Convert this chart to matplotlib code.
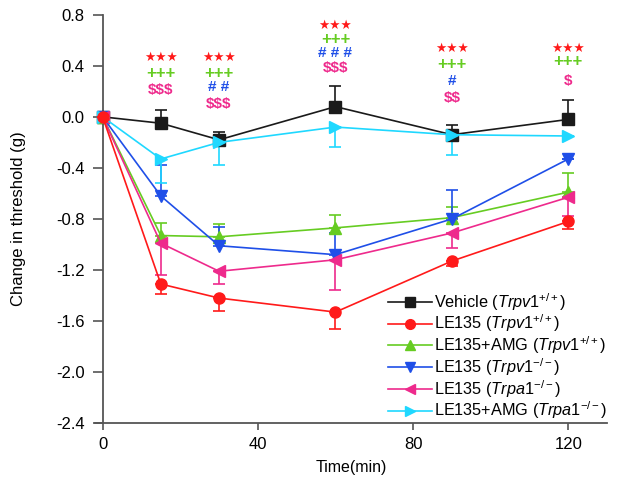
import matplotlib
matplotlib.use("Agg")
import matplotlib.pyplot as plt
from matplotlib.lines import Line2D

plt.rcParams["font.family"] = ["Liberation Sans", "DejaVu Sans"]
plt.rcParams["mathtext.fontset"] = "custom"
plt.rcParams["mathtext.rm"] = "Liberation Sans"
plt.rcParams["mathtext.it"] = "Liberation Sans:italic"

time = [0, 15, 30, 60, 90, 120]

# means and one-sided SEM (direction given per series)
vehicle = [0.0, -0.05, -0.18, 0.08, -0.14, -0.02]
vehicle_err = [0.0, 0.10, 0.06, 0.16, 0.08, 0.15]
le135 = [0.0, -1.31, -1.42, -1.53, -1.13, -0.82]
le135_err = [0.0, 0.08, 0.10, 0.13, 0.04, 0.06]
le135_amg = [0.0, -0.93, -0.94, -0.87, -0.79, -0.59]
le135_amg_err = [0.0, 0.10, 0.10, 0.10, 0.08, 0.15]
le135_v1ko = [0.0, -0.62, -1.01, -1.08, -0.80, -0.33]
le135_v1ko_err = [0.0, 0.24, 0.15, 0.17, 0.23, 0.0]
le135_a1ko = [0.0, -0.99, -1.21, -1.12, -0.91, -0.63]
le135_a1ko_err = [0.0, 0.25, 0.10, 0.24, 0.12, 0.15]
le135_amg_a1ko = [0.0, -0.33, -0.20, -0.08, -0.14, -0.15]
le135_amg_a1ko_err = [0.0, 0.19, 0.18, 0.16, 0.16, 0.0]

labels = [
    r"Vehicle ($\mathit{Trpv1}^{+/+}$)",
    r"LE135 ($\mathit{Trpv1}^{+/+}$)",
    r"LE135+AMG ($\mathit{Trpv1}^{+/+}$)",
    r"LE135 ($\mathit{Trpv1}^{-/-}$)",
    r"LE135 ($\mathit{Trpa1}^{-/-}$)",
    r"LE135+AMG ($\mathit{Trpa1}^{-/-}$)",
]

# significance marks
sig_time = [15, 15, 15, 30, 30, 30, 30, 60, 60, 60, 60, 90, 90, 90, 90, 120, 120, 120]
sig_y = [0.46, 0.34, 0.21, 0.46, 0.34, 0.23, 0.10, 0.71, 0.61, 0.50, 0.38,
         0.53, 0.41, 0.28, 0.15, 0.53, 0.43, 0.28]
sig_text = ["★★★", "+++", "$$$", "★★★", "+++", "# #", "$$$", "★★★", "+++", "# # #", "$$$",
            "★★★", "+++", "#", "$$", "★★★", "+++", "$"]
sig_kind = ["r", "g", "m", "r", "g", "b", "m", "r", "g", "b", "m",
            "r", "g", "b", "m", "r", "g", "m"]

RED, GREEN, BLUE, MAG, CYAN, BLACK = "#ff1a1a", "#66cc22", "#1f4fe8", "#ee2a8c", "#1fd8ff", "#1a1a1a"
kind_col = {"r": RED, "g": GREEN, "b": BLUE, "m": MAG}

series = [
    (vehicle, vehicle_err, "up", BLACK, "s"),
    (le135, le135_err, "down", RED, "o"),
    (le135_amg, le135_amg_err, "up", GREEN, "^"),
    (le135_v1ko, le135_v1ko_err, "up", BLUE, "v"),
    (le135_a1ko, le135_a1ko_err, "down", MAG, "<"),
    (le135_amg_a1ko, le135_amg_a1ko_err, "down", CYAN, ">"),
]

fig = plt.figure(figsize=(6.24, 4.92), dpi=100)
ax = fig.add_axes([0.152, 0.140, 0.821, 0.830])

handles = []
for (y, e, d, col, mk), lab in zip(series, labels):
    zeros = [0.0] * len(e)
    # yerr = [lower, upper]
    yerr = [e, zeros] if d == "down" else [zeros, e]
    ax.errorbar(time, y, yerr=yerr, color=col, marker=mk, markersize=8,
                linewidth=1.2, elinewidth=1.2, capsize=4, capthick=1.2,
                zorder=4 if col == RED else 3)
    handles.append(Line2D([], [], color=col, marker=mk, markersize=7,
                          linewidth=1.2, label=lab))

for t, yv, s, k in zip(sig_time, sig_y, sig_text, sig_kind):
    fs = 9 if k == "r" else (12 if k == "g" else 11)
    ax.text(t, yv, s, color=kind_col[k], ha="center", va="center",
            fontsize=fs, fontweight="bold", parse_math=False)

ax.set_xlim(-2, 130)
ax.set_ylim(-2.4, 0.8)
ax.spines["left"].set_position(("data", 0))
ax.spines["left"].set_bounds(-2.4, 0.8)
ax.spines["top"].set_visible(False)
ax.spines["right"].set_visible(False)
for sp in ("left", "bottom"):
    ax.spines[sp].set_color("#555555")
    ax.spines[sp].set_linewidth(1.3)
ax.set_xticks([0, 40, 80, 120])
ax.set_yticks([0.8, 0.4, 0.0, -0.4, -0.8, -1.2, -1.6, -2.0, -2.4])
ax.set_yticklabels(["0.8", "0.4", "0.0", "-0.4", "-0.8", "-1.2", "-1.6", "-2.0", "-2.4"])
ax.tick_params(axis="both", labelsize=12, color="#555555", width=1.2)
ax.tick_params(axis="y", length=7, pad=6)
ax.tick_params(axis="x", length=5, pad=5)
ax.set_xlabel("Time(min)", fontsize=11.5, labelpad=6)
ax.set_ylabel("Change in threshold (g)", fontsize=12)
ax.yaxis.set_label_coords(-0.135, 0.5)

ax.legend(handles=handles, loc="upper left", bbox_to_anchor=(388 / 624, 1 - 291 / 492),
          bbox_transform=fig.transFigure, frameon=False, fontsize=11.7,
          handlelength=2.7, handletextpad=0.1, labelspacing=0.0,
          borderaxespad=0, borderpad=0)

fig.savefig("out.png", dpi=100)
